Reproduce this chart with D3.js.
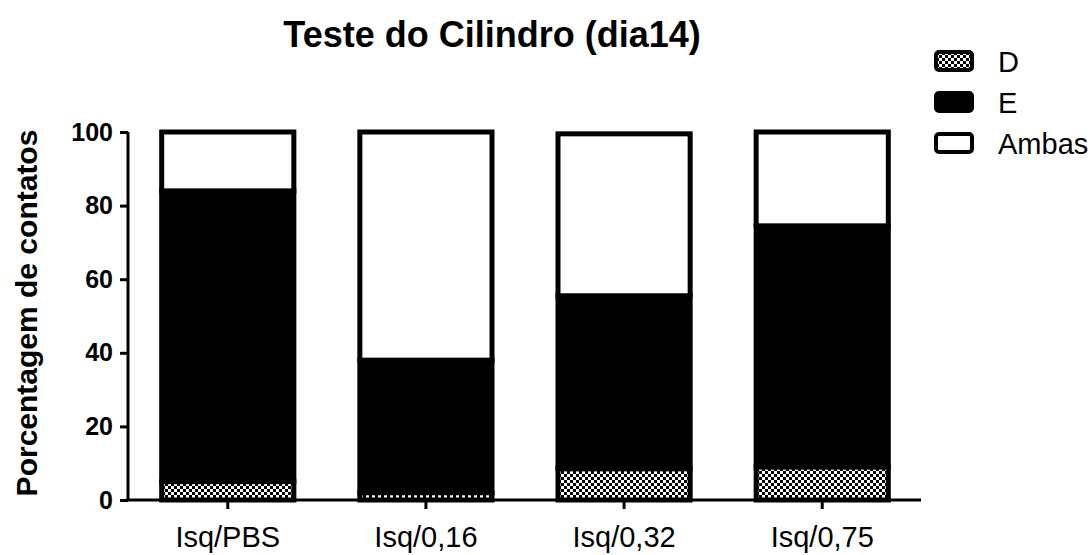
<!DOCTYPE html>
<html>
<head>
<meta charset="utf-8">
<script src="https://cdn.jsdelivr.net/npm/d3@7"></script>
<style>
	body { margin: 0; background: #fff; }
	text { font-family: Arial, "Liberation Sans", sans-serif; }
</style>
</head>
<body>
<div id="visContainer"></div>
<script>
'use strict';

// data (percent of contacts)
var categories = ['Isq/PBS', 'Isq/0,16', 'Isq/0,32', 'Isq/0,75'];
var seriesNames = ['D', 'E', 'Ambas'];
var valuesD = [5, 2, 8.5, 9];
var valuesE = [79, 36, 47, 65.5];
var valuesAmbas = [16, 62, 44, 25.5];
var yTicks = [0, 20, 40, 60, 80, 100];

var svg = d3.select('#visContainer')
	.append('svg')
	.attr('width', 1092)
	.attr('height', 555);

// checkerboard fill used for the D series
var defs = svg.append('defs');
var pat = defs.append('pattern')
	.attr('id', 'checker')
	.attr('patternUnits', 'userSpaceOnUse')
	.attr('width', 6)
	.attr('height', 6);
pat.append('rect').attr('width', 6).attr('height', 6).attr('fill', '#fff');
pat.append('rect').attr('width', 3).attr('height', 3).attr('fill', '#000');
pat.append('rect').attr('x', 3).attr('y', 3).attr('width', 3).attr('height', 3).attr('fill', '#000');

var fills = { 'D': 'url(#checker)', 'E': '#000', 'Ambas': '#fff' };

var xScale = d3.scaleBand()
	.domain(categories)
	.range([128, 922])
	.paddingInner(0.333)
	.paddingOuter(0.17);

var yScale = d3.scaleLinear()
	.domain([0, 100])
	.range([500, 132]);

// stack the three series
var rows = categories.map(function (c, i) {
	return { cat: c, D: valuesD[i], E: valuesE[i], Ambas: valuesAmbas[i] };
});
var stacked = d3.stack().keys(seriesNames)(rows);

var bars = svg.append('g');
stacked.forEach(function (layer) {
	bars.selectAll(null)
		.data(layer)
		.enter().append('rect')
		.attr('x', function (d) { return xScale(d.data.cat); })
		.attr('y', function (d) { return yScale(d[1]); })
		.attr('width', xScale.bandwidth())
		.attr('height', function (d) { return yScale(d[0]) - yScale(d[1]); })
		.attr('fill', fills[layer.key])
		.attr('stroke', '#000')
		.attr('stroke-width', 5);
});

// y axis
var yAxis = d3.axisLeft(yScale).tickValues(yTicks).tickSize(8).tickPadding(7);
var gy = svg.append('g')
	.attr('transform', 'translate(128,0)')
	.call(yAxis);
gy.select('.domain').attr('stroke-width', 3).attr('d', 'M0,' + yScale(100) + 'V' + yScale(0));
gy.selectAll('.tick line').attr('stroke-width', 3);
gy.selectAll('.tick text')
	.style('font-size', '25px')
	.style('font-weight', 'bold')
	.attr('fill', '#000');

// x axis
var xAxis = d3.axisBottom(xScale).tickSize(9).tickPadding(17);
var gx = svg.append('g')
	.attr('transform', 'translate(0,500)')
	.call(xAxis);
gx.select('.domain').attr('stroke-width', 3).attr('d', 'M126.5,0H921');
gx.selectAll('.tick line').attr('stroke-width', 3);
gx.selectAll('.tick text')
	.style('font-size', '29px')
	.attr('fill', '#000');

// title
svg.append('text')
	.attr('x', 492)
	.attr('y', 47)
	.attr('text-anchor', 'middle')
	.style('font-size', '36px')
	.style('font-weight', 'bold')
	.text('Teste do Cilindro (dia14)');

// y axis label
svg.append('text')
	.attr('transform', 'translate(37,' + 313 + ') rotate(-90)')
	.attr('text-anchor', 'middle')
	.style('font-size', '30px')
	.style('font-weight', 'bold')
	.text('Porcentagem de contatos');

// legend
var legend = svg.append('g')
	.attr('transform', 'translate(936,52)');
var items = legend.selectAll('.legend')
	.data(seriesNames)
	.enter().append('g')
	.attr('class', 'legend')
	.attr('transform', function (d, i) { return 'translate(0,' + i * 41 + ')'; });
items.append('rect')
	.attr('width', 36)
	.attr('height', 18)
	.attr('rx', 3)
	.attr('fill', function (d) { return fills[d]; })
	.attr('stroke', '#000')
	.attr('stroke-width', 4);
items.append('text')
	.attr('x', 62)
	.attr('y', 20)
	.style('font-size', '29px')
	.text(function (d) { return d; });
</script>
</body>
</html>
